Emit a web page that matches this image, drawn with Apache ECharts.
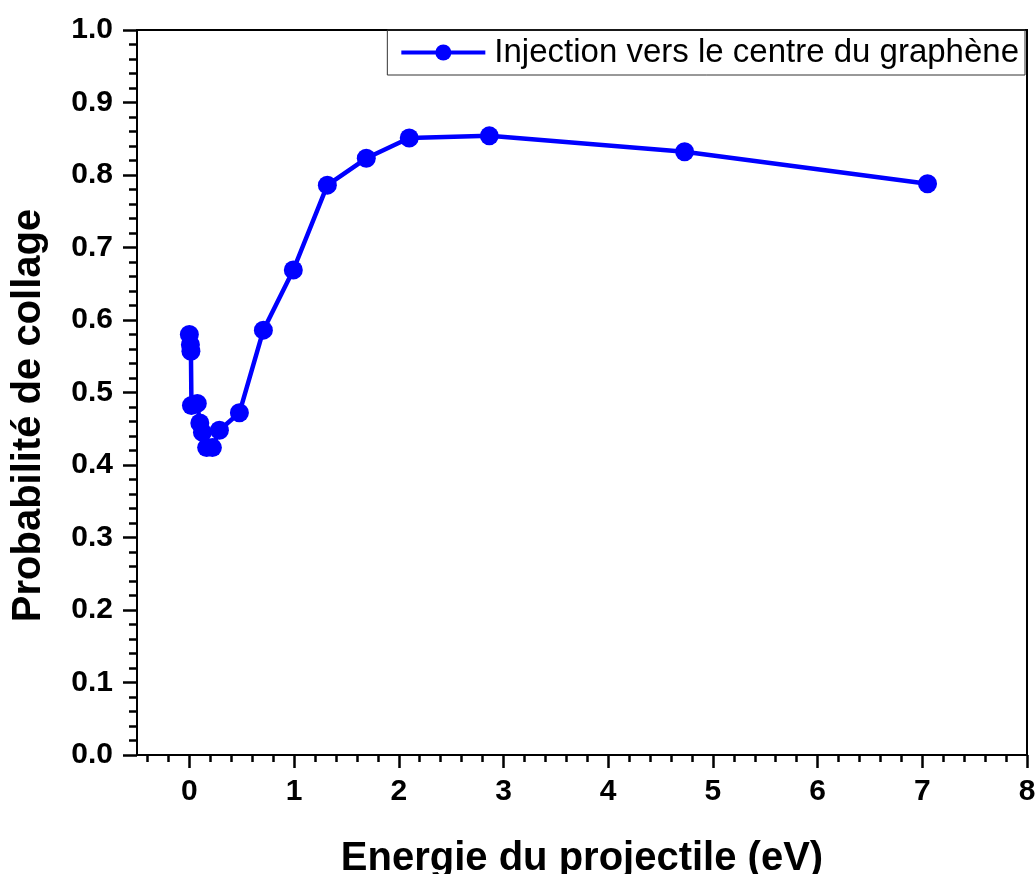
<!DOCTYPE html>
<html>
<head>
<meta charset="utf-8">
<script src="https://cdn.jsdelivr.net/npm/echarts@6/dist/echarts.min.js"></script>
<style>
html,body{margin:0;padding:0;background:#fff;}
#chart{width:1035px;height:874px;}
</style>
</head>
<body>
<div id="chart"></div>
<script>
const energy = [0.0, 0.01, 0.015, 0.02, 0.076, 0.10, 0.125, 0.165, 0.22, 0.287, 0.478, 0.707, 0.993, 1.318, 1.69, 2.10, 2.865, 4.73, 7.05];
const probability = [0.580, 0.566, 0.557, 0.482, 0.485, 0.458, 0.445, 0.424, 0.424, 0.448, 0.472, 0.586, 0.669, 0.786, 0.823, 0.851, 0.854, 0.832, 0.788];
const xMajorTicks = [0, 1, 2, 3, 4, 5, 6, 7, 8];
const xMinorTicks = [-0.4, -0.2, 0.2, 0.4, 0.6, 0.8, 1.2, 1.4, 1.6, 1.8, 2.2, 2.4, 2.6, 2.8, 3.2, 3.4, 3.6, 3.8, 4.2, 4.4, 4.6, 4.8, 5.2, 5.4, 5.6, 5.8, 6.2, 6.4, 6.6, 6.8, 7.2, 7.4, 7.6, 7.8];
const seriesName = 'Injection vers le centre du graphène';
const xTitle = 'Energie du projectile (eV)';
const yTitle = 'Probabilité de collage';

const chart = echarts.init(document.getElementById('chart'));
const FONT = 'Liberation Sans, Arial, sans-serif';
chart.setOption({
  backgroundColor: '#fff',
  animation: false,
  grid: {left: 137, right: 8, top: 30, bottom: 119, show: true, borderColor: '#000', borderWidth: 2, containLabel: false, outerBoundsMode: 'none'},
  legend: {
    data: [seriesName], right: 10, top: 30,
    orient: 'horizontal',
    borderColor: '#333', borderWidth: 1, borderRadius: 0,
    padding: [6, 6, 6, 12],
    itemWidth: 84, itemHeight: 20, itemGap: 0,
    lineStyle: {width: 4},
    textStyle: {fontFamily: FONT, fontSize: 33, color: '#000', padding: [0, 0, 0, 4]}
  },
  xAxis: [{
    type: 'value', min: -0.5, max: 8, minInterval: 1, maxInterval: 1, splitNumber: 8,
    position: 'bottom',
    name: xTitle, nameLocation: 'middle', nameGap: 84,
    nameTextStyle: {fontFamily: FONT, fontSize: 40, fontWeight: 'bold', color: '#000'},
    axisLine: {show: true, onZero: false, lineStyle: {color: '#000', width: 2}},
    axisTick: {show: true, inside: false, length: 13, lineStyle: {color: '#000', width: 2.5}, customValues: xMajorTicks},
    axisLabel: {show: true, margin: 22, fontFamily: FONT, fontSize: 30, fontWeight: 'bold', color: '#000', customValues: xMajorTicks,
      formatter: v => (Math.abs(v - Math.round(v)) < 1e-9 ? String(Math.round(v)) : '')},
    splitLine: {show: false}
  }, {
    type: 'value', min: -0.5, max: 8, position: 'bottom', gridIndex: 0,
    axisLine: {show: false, onZero: false},
    axisTick: {show: true, inside: false, length: 7, lineStyle: {color: '#000', width: 2.5}, customValues: xMinorTicks},
    axisLabel: {show: false},
    splitLine: {show: false}
  }],
  yAxis: {
    type: 'value', min: 0, max: 1, interval: 0.1,
    name: yTitle, nameLocation: 'middle', nameGap: 88, nameRotate: 90,
    nameTextStyle: {fontFamily: FONT, fontSize: 40, fontWeight: 'bold', color: '#000', padding: [0, 46, 0, 0]},
    axisLine: {show: true, onZero: false, lineStyle: {color: '#000', width: 2}},
    axisTick: {show: true, inside: false, length: 14, lineStyle: {color: '#000', width: 2.5}},
    minorTick: {show: true, splitNumber: 5, length: 8, lineStyle: {color: '#000', width: 2.5}},
    axisLabel: {margin: 24, fontFamily: FONT, fontSize: 30, fontWeight: 'bold', color: '#000', formatter: v => v.toFixed(1)},
    splitLine: {show: false}
  },
  series: [{
    name: seriesName, type: 'line',
    data: energy.map((x, i) => [x, probability[i]]),
    symbol: 'circle', symbolSize: 19,
    lineStyle: {color: '#0000ff', width: 4.5},
    itemStyle: {color: '#0000ff'},
    z: 5
  }]
});
</script>
</body>
</html>
